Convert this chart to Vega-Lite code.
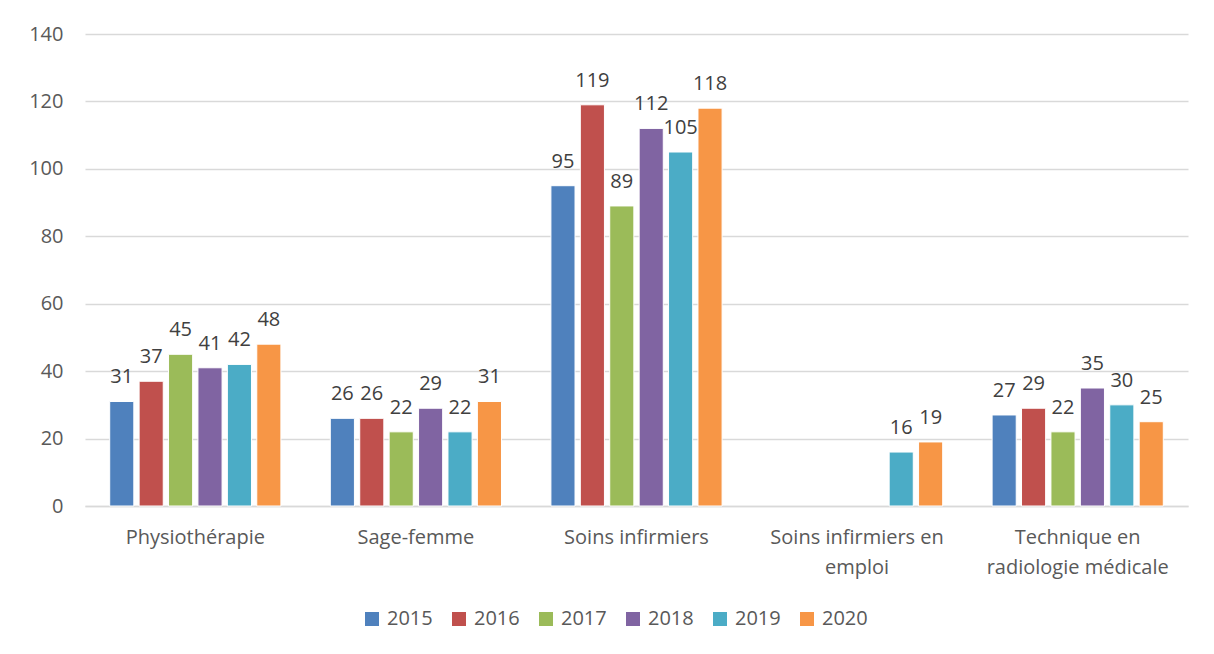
{
  "$schema": "https://vega.github.io/schema/vega-lite/v6.json",
  "autosize": "none",
  "width": 1103,
  "height": 472,
  "padding": {"left": 85, "top": 34, "right": 26, "bottom": 148},
  "background": "white",
  "config": {
    "font": "Open Sans",
    "view": {"stroke": null}
  },
  "data": {
    "values": [
      {"cat": "Physiothérapie", "year": "2015", "value": 31},
      {"cat": "Physiothérapie", "year": "2016", "value": 37},
      {"cat": "Physiothérapie", "year": "2017", "value": 45},
      {"cat": "Physiothérapie", "year": "2018", "value": 41},
      {"cat": "Physiothérapie", "year": "2019", "value": 42},
      {"cat": "Physiothérapie", "year": "2020", "value": 48},
      {"cat": "Sage-femme", "year": "2015", "value": 26},
      {"cat": "Sage-femme", "year": "2016", "value": 26},
      {"cat": "Sage-femme", "year": "2017", "value": 22},
      {"cat": "Sage-femme", "year": "2018", "value": 29},
      {"cat": "Sage-femme", "year": "2019", "value": 22},
      {"cat": "Sage-femme", "year": "2020", "value": 31},
      {"cat": "Soins infirmiers", "year": "2015", "value": 95},
      {"cat": "Soins infirmiers", "year": "2016", "value": 119},
      {"cat": "Soins infirmiers", "year": "2017", "value": 89},
      {"cat": "Soins infirmiers", "year": "2018", "value": 112},
      {"cat": "Soins infirmiers", "year": "2019", "value": 105},
      {"cat": "Soins infirmiers", "year": "2020", "value": 118},
      {"cat": "Soins infirmiers en emploi", "year": "2019", "value": 16},
      {"cat": "Soins infirmiers en emploi", "year": "2020", "value": 19},
      {"cat": "Technique en radiologie médicale", "year": "2015", "value": 27},
      {"cat": "Technique en radiologie médicale", "year": "2016", "value": 29},
      {"cat": "Technique en radiologie médicale", "year": "2017", "value": 22},
      {"cat": "Technique en radiologie médicale", "year": "2018", "value": 35},
      {"cat": "Technique en radiologie médicale", "year": "2019", "value": 30},
      {"cat": "Technique en radiologie médicale", "year": "2020", "value": 25}
    ]
  },
  "encoding": {
    "x": {
      "field": "cat",
      "type": "nominal",
      "sort": ["Physiothérapie", "Sage-femme", "Soins infirmiers", "Soins infirmiers en emploi", "Technique en radiologie médicale"],
      "scale": {"paddingInner": 0.2, "paddingOuter": 0.1},
      "axis": {
        "title": null,
        "labelAngle": 0,
        "labelFontSize": 20,
        "labelColor": "#595959",
        "labelPadding": 21,
        "labelLineHeight": 30,
        "labelLimit": 400,
        "ticks": false,
        "domainColor": "#d9d9d9",
        "domainWidth": 1.5,
        "labelExpr": "datum.value == 'Soins infirmiers en emploi' ? ['Soins infirmiers en', 'emploi'] : datum.value == 'Technique en radiologie médicale' ? ['Technique en', 'radiologie médicale'] : datum.value"
      }
    },
    "xOffset": {
      "field": "year",
      "type": "nominal",
      "scale": {"domain": ["2015", "2016", "2017", "2018", "2019", "2020"], "paddingInner": 0.18, "paddingOuter": 0.09}
    },
    "y": {
      "field": "value",
      "type": "quantitative",
      "scale": {"domain": [0, 140]},
      "axis": {
        "title": null,
        "values": [0, 20, 40, 60, 80, 100, 120, 140],
        "labelFontSize": 20,
        "labelColor": "#595959",
        "labelPadding": 22,
        "ticks": false,
        "domain": false,
        "gridColor": "#d9d9d9",
        "gridWidth": 1.5
      }
    }
  },
  "layer": [
    {
      "mark": {"type": "bar", "stroke": "white", "strokeWidth": 1},
      "encoding": {
        "color": {
          "field": "year",
          "type": "nominal",
          "scale": {"domain": ["2015", "2016", "2017", "2018", "2019", "2020"], "range": ["#4F81BD", "#C0504D", "#9BBB59", "#8064A2", "#4BACC6", "#F79646"]},
          "legend": {
            "title": null,
            "orient": "none",
            "direction": "horizontal",
            "legendX": 277,
            "legendY": 575,
            "symbolType": "square",
            "symbolSize": 196,
            "symbolStrokeWidth": 0,
            "labelFontSize": 20,
            "labelColor": "#595959",
            "columnPadding": 16,
            "labelOffset": 5
          }
        }
      }
    },
    {
      "mark": {"type": "text", "baseline": "bottom", "dy": -14, "fontSize": 20, "color": "#404040"},
      "encoding": {
        "text": {"field": "value", "type": "quantitative"}
      }
    }
  ]
}
